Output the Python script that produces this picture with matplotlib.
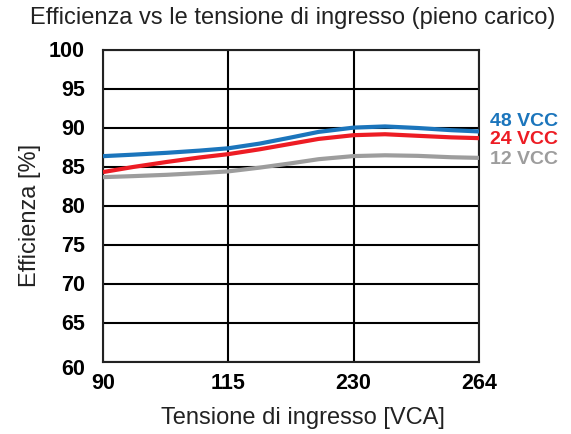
import matplotlib
matplotlib.use("Agg")
import matplotlib.pyplot as plt
import matplotlib.transforms as mtransforms

plt.rcParams['font.family'] = ['Liberation Sans', 'DejaVu Sans']

x_labels = ["90", "115", "230", "264"]
y_ticks = [60, 65, 70, 75, 80, 85, 90, 95, 100]

# positions along the categorical axis (0 = 90 V, 1 = 115 V, 2 = 230 V, 3 = 264 V)
pos = [0.0, 0.24, 0.51, 0.77, 1.0, 1.25, 1.49, 1.72, 2.0, 2.25, 2.51, 2.78, 3.0]
eff_48 = [86.39, 86.58, 86.82, 87.1, 87.4, 88.0, 88.75, 89.5, 90.05, 90.2, 90.0, 89.72, 89.56]
eff_24 = [84.35, 85.0, 85.65, 86.22, 86.65, 87.27, 87.95, 88.6, 89.08, 89.2, 89.0, 88.8, 88.7]
eff_12 = [83.7, 83.83, 84.0, 84.22, 84.44, 84.92, 85.45, 86.0, 86.4, 86.5, 86.43, 86.25, 86.17]

series = [("48 VCC", eff_48, "#1b75bc"), ("24 VCC", eff_24, "#ed1c24"), ("12 VCC", eff_12, "#9d9d9d")]
label_y_px = [121, 140, 160]

fig = plt.figure(figsize=(5.71, 4.34), dpi=100)
ax = fig.add_axes([103/571, 1-362/434, (479-103)/571, (362-50)/434])

for (name, vals, col), ly in zip(series, label_y_px):
    ax.plot(pos, vals, color=col, lw=3, solid_capstyle='butt', solid_joinstyle='round', zorder=3)
    fig.text(490/571, 1-ly/434, name, color=col, fontsize=14, fontweight='bold', va='center', ha='left')

ax.set_xlim(0, 3)
ax.set_ylim(60, 100)
ax.set_xticks(range(len(x_labels)))
ax.set_xticklabels(x_labels, fontsize=15.5, fontweight='bold')
ax.set_yticks(y_ticks)
ax.set_yticklabels([str(v) for v in y_ticks], fontsize=15.5, fontweight='bold')
ax.tick_params(length=0, pad=8)
ax.tick_params(axis='y', pad=13)
ax.grid(True, color='black', lw=1.5, zorder=1)
for s in ax.spines.values():
    s.set_linewidth(1.5)
    s.set_color('#222222')

# label offsets (in pixels)
for lab in ax.get_yticklabels():
    dy = -5 if lab.get_text() == "60" else 1
    lab.set_transform(lab.get_transform() + mtransforms.ScaledTranslation(0, dy/100, fig.dpi_scale_trans))

fig.text(293/571, 1-18/434, "Efficienza vs le tensione di ingresso (pieno carico)", fontsize=17,
         ha='center', va='center', color='#222222')
fig.text(303/571, 1-418/434, "Tensione di ingresso [VCA]", fontsize=17, ha='center', va='center', color='#222222')
fig.text(30/571, 1-215/434, "Efficienza [%]", fontsize=17, ha='center', va='center', rotation=90, color='#222222')

fig.savefig("out.png", dpi=100)
